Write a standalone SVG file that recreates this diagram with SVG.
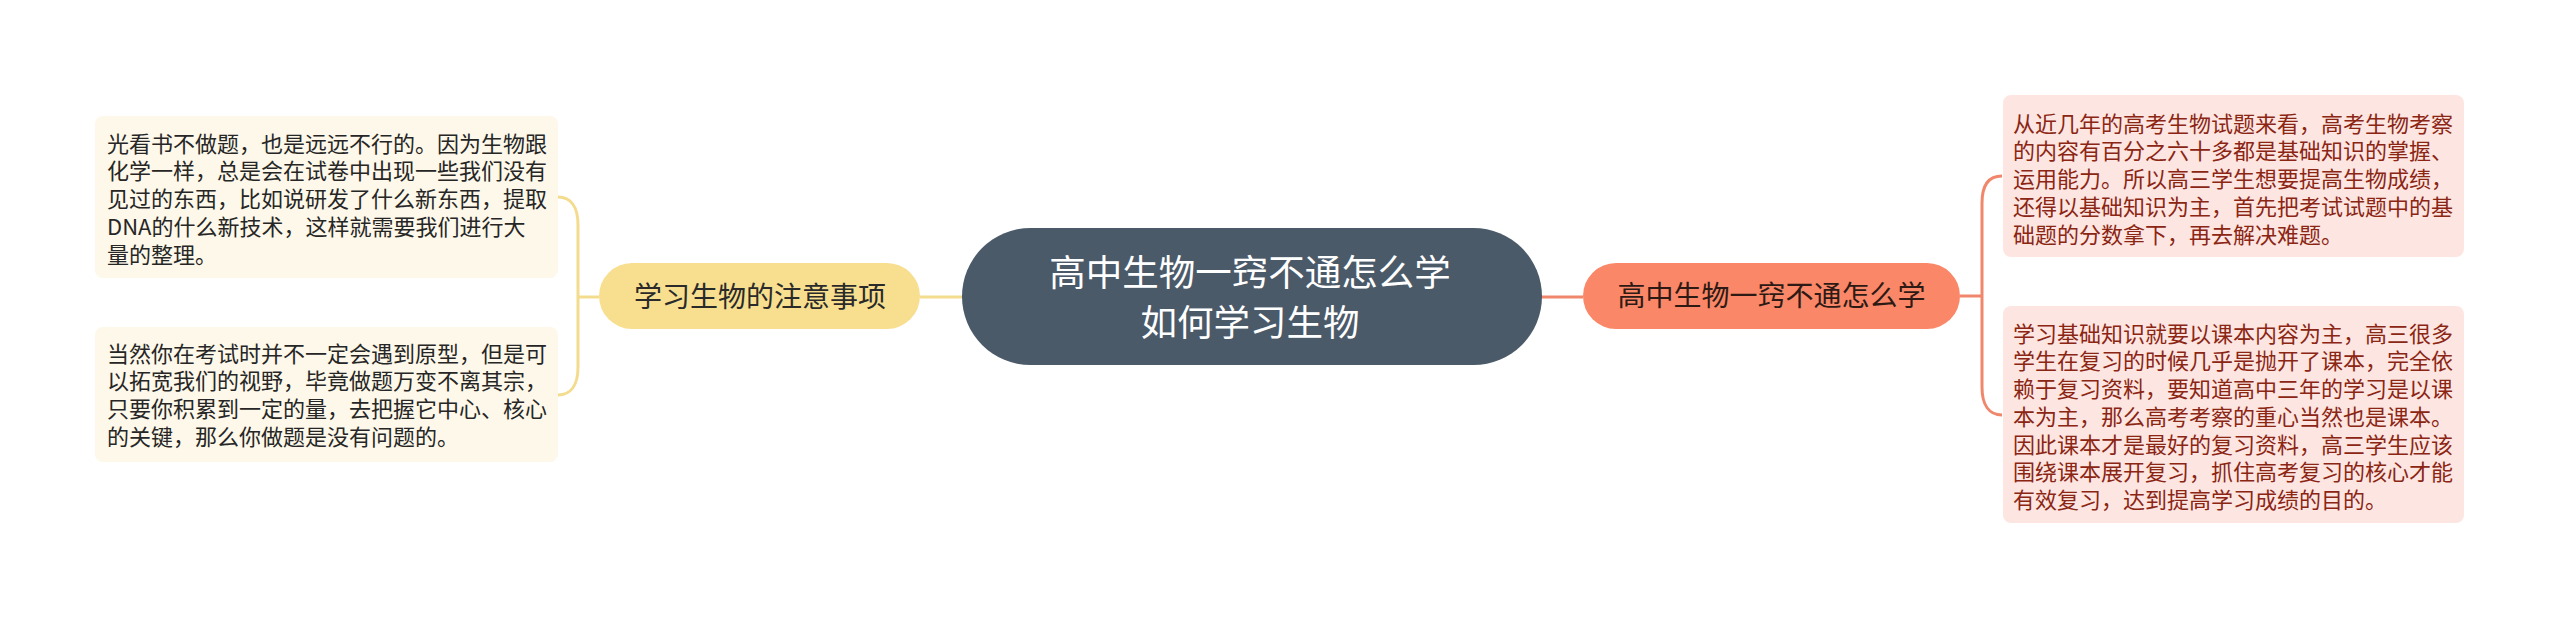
<svg xmlns="http://www.w3.org/2000/svg" width="2560" height="621" viewBox="0 0 2560 621">
<style>
text{font-family:"Noto Sans CJK SC","Noto Sans",sans-serif}
.root{fill:#4b5a69}
.roott{fill:#ffffff;font-size:36.5px;text-anchor:middle}
.ly{fill:#f7df8f}
.lyt{fill:#2a2a2a;font-size:28px;text-anchor:middle}
.ro{fill:#fa8767}
.rot{fill:#2e1a14;font-size:28px;text-anchor:middle}
.lbox{fill:#fdf8e9}
.lboxt{fill:#262626;font-size:22px}
.rbox{fill:#fde6e1}
.rboxt{fill:#8b2514;font-size:22px}
.cy{fill:none;stroke:#f4dc8e;stroke-width:3}
.co{fill:none;stroke:#f0876c;stroke-width:3}
</style>
<rect width="2560" height="621" fill="#ffffff"/>
<g id="connectors">
<path class="cy" d="M962 297 H920"/>
<path class="cy" d="M599 297 H578"/>
<path class="cy" d="M578 297 V225 C578 207 571 197 558 197"/>
<path class="cy" d="M578 297 V367 C578 385 571 395 558 395"/>
<path class="co" d="M1542 297 H1583"/>
<path class="co" d="M1960 296 H1982"/>
<path class="co" d="M1982 296 V203 C1982 185 1989 176 2002 176"/>
<path class="co" d="M1982 296 V387 C1982 405 1989 415 2002 415"/>
</g>
<g id="root">
<rect class="root" x="962" y="228" width="580" height="137" rx="68.5"/>
<text class="roott" x="1250" y="286">高中生物一窍不通怎么学</text>
<text class="roott" x="1250" y="336">如何学习生物</text>
</g>
<g id="left-topic">
<rect class="ly" x="599" y="263" width="321" height="66" rx="33"/>
<text class="lyt" x="760" y="307">学习生物的注意事项</text>
</g>
<g id="right-topic">
<rect class="ro" x="1583" y="263" width="377" height="66" rx="33"/>
<text class="rot" x="1771.5" y="306">高中生物一窍不通怎么学</text>
</g>
<g id="left-box-1">
<rect class="lbox" x="95" y="116" width="463" height="162" rx="8"/>
<text class="lboxt" x="107" y="151.5">光看书不做题，也是远远不行的。因为生物跟</text>
<text class="lboxt" x="107" y="179.3">化学一样，总是会在试卷中出现一些我们没有</text>
<text class="lboxt" x="107" y="207">见过的东西，比如说研发了什么新东西，提取</text>
<text class="lboxt" x="107" y="234.8">DNA的什么新技术，这样就需要我们进行大</text>
<text class="lboxt" x="107" y="262.5">量的整理。</text>
</g>
<g id="left-box-2">
<rect class="lbox" x="95" y="327" width="463" height="135" rx="8"/>
<text class="lboxt" x="107" y="361.5">当然你在考试时并不一定会遇到原型，但是可</text>
<text class="lboxt" x="107" y="389.3">以拓宽我们的视野，毕竟做题万变不离其宗，</text>
<text class="lboxt" x="107" y="417">只要你积累到一定的量，去把握它中心、核心</text>
<text class="lboxt" x="107" y="444.8">的关键，那么你做题是没有问题的。</text>
</g>
<g id="right-box-1">
<rect class="rbox" x="2003" y="95" width="461" height="162" rx="8"/>
<text class="rboxt" x="2013" y="131.5">从近几年的高考生物试题来看，高考生物考察</text>
<text class="rboxt" x="2013" y="159.3">的内容有百分之六十多都是基础知识的掌握、</text>
<text class="rboxt" x="2013" y="187">运用能力。所以高三学生想要提高生物成绩，</text>
<text class="rboxt" x="2013" y="214.8">还得以基础知识为主，首先把考试试题中的基</text>
<text class="rboxt" x="2013" y="242.5">础题的分数拿下，再去解决难题。</text>
</g>
<g id="right-box-2">
<rect class="rbox" x="2003" y="306" width="461" height="217" rx="8"/>
<text class="rboxt" x="2013" y="341.5">学习基础知识就要以课本内容为主，高三很多</text>
<text class="rboxt" x="2013" y="369.3">学生在复习的时候几乎是抛开了课本，完全依</text>
<text class="rboxt" x="2013" y="397">赖于复习资料，要知道高中三年的学习是以课</text>
<text class="rboxt" x="2013" y="424.8">本为主，那么高考考察的重心当然也是课本。</text>
<text class="rboxt" x="2013" y="452.5">因此课本才是最好的复习资料，高三学生应该</text>
<text class="rboxt" x="2013" y="480.3">围绕课本展开复习，抓住高考复习的核心才能</text>
<text class="rboxt" x="2013" y="508">有效复习，达到提高学习成绩的目的。</text>
</g>
</svg>
